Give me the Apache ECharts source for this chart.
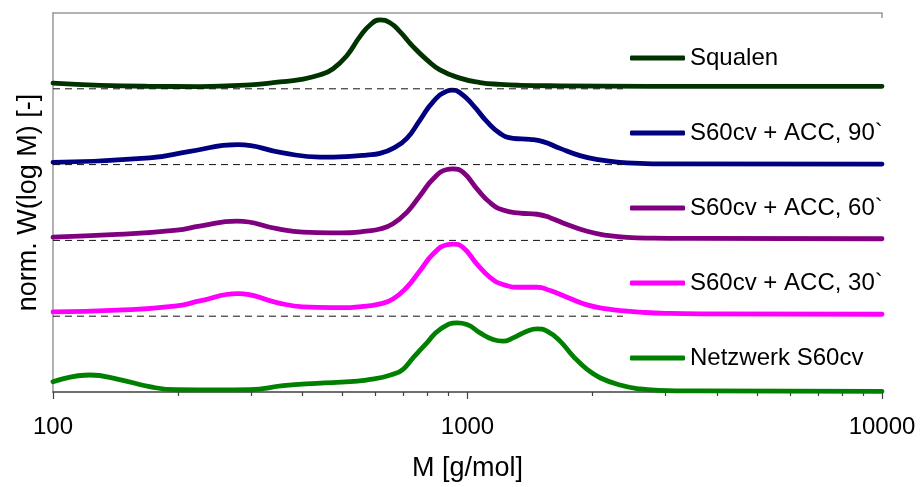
<!DOCTYPE html>
<html>
<head>
<meta charset="utf-8">
<script src="https://cdn.jsdelivr.net/npm/echarts@6/dist/echarts.min.js"></script>
<style>
  html, body { margin: 0; padding: 0; background: #fff; }
  #chart { width: 921px; height: 487px; }
</style>
</head>
<body>
<div id="chart"></div>
<script>
// Molar mass distributions, each trace stacked on its own baseline (offset).
const seriesNames = ['Squalen', 'S60cv + ACC, 90`', 'S60cv + ACC, 60`', 'S60cv + ACC, 30`', 'Netzwerk S60cv'];
const seriesColors = ['#003300', '#000080', '#800080', '#ff00ff', '#008000'];
const baseOffsets = [4, 3, 2, 1, 0];

const squalenM = [100, 130, 171, 226, 299, 353, 394, 441, 474, 512, 550, 582, 615, 650, 687, 739, 798, 858, 959, 1072, 1198, 1339, 1671, 2756, 10000];
const squalenW = [0.075, 0.046, 0.033, 0.030, 0.053, 0.090, 0.122, 0.185, 0.265, 0.440, 0.688, 0.842, 0.908, 0.872, 0.754, 0.557, 0.382, 0.250, 0.141, 0.083, 0.058, 0.046, 0.039, 0.033, 0.033];

const acc90M = [100, 171, 214, 279, 359, 441, 521, 570, 615, 661, 714, 768, 826, 892, 918, 959, 1031, 1114, 1198, 1288, 1415, 1521, 1672, 1868, 2088, 2333, 2608, 2914, 10000];
const acc90W = [0.030, 0.088, 0.175, 0.263, 0.154, 0.099, 0.109, 0.126, 0.149, 0.214, 0.346, 0.588, 0.829, 0.970, 0.983, 0.947, 0.786, 0.566, 0.412, 0.346, 0.333, 0.303, 0.214, 0.118, 0.062, 0.030, 0.017, 0.010, 0.007];

const acc60M = [100, 143, 199, 226, 278, 347, 401, 470, 521, 570, 615, 661, 714, 768, 826, 892, 922, 975, 1054, 1133, 1218, 1339, 1472, 1582, 1738, 1943, 2171, 2426, 2800, 3499, 10000];
const acc60W = [0.043, 0.079, 0.136, 0.188, 0.254, 0.154, 0.109, 0.100, 0.101, 0.122, 0.150, 0.220, 0.370, 0.590, 0.810, 0.935, 0.943, 0.900, 0.680, 0.500, 0.400, 0.360, 0.345, 0.300, 0.210, 0.120, 0.066, 0.040, 0.030, 0.026, 0.022];

const acc30M = [100, 143, 199, 226, 279, 347, 401, 470, 521, 570, 615, 661, 714, 768, 826, 892, 922, 975, 1054, 1133, 1218, 1339, 1472, 1582, 1738, 1943, 2171, 2426, 2608, 3000, 3639, 10000];
const acc30W = [0.057, 0.079, 0.136, 0.201, 0.299, 0.180, 0.122, 0.112, 0.114, 0.134, 0.162, 0.228, 0.382, 0.601, 0.820, 0.943, 0.951, 0.908, 0.688, 0.513, 0.417, 0.382, 0.382, 0.338, 0.250, 0.149, 0.096, 0.066, 0.053, 0.038, 0.030, 0.026];

const netzM = [100, 123, 143, 171, 199, 250, 299, 359, 433, 521, 570, 615, 661, 699, 739, 798, 858, 944, 997, 1072, 1152, 1218, 1288, 1391, 1472, 1555, 1672, 1797, 1943, 2088, 2333, 2608, 2900, 3639, 10000];
const netzW = [0.136, 0.224, 0.171, 0.070, 0.030, 0.028, 0.030, 0.083, 0.114, 0.136, 0.158, 0.188, 0.233, 0.299, 0.451, 0.649, 0.825, 0.912, 0.891, 0.780, 0.693, 0.671, 0.714, 0.803, 0.833, 0.803, 0.671, 0.474, 0.299, 0.188, 0.092, 0.040, 0.022, 0.014, 0.009];

const massSets = [squalenM, acc90M, acc60M, acc30M, netzM];
const valueSets = [squalenW, acc90W, acc60W, acc30W, netzW];

// Dashed reference baselines
const dashLevels = [4, 3, 2, 1];
const dashStartM = 100;
const dashEndM = 2370;

const majorTicks = [100, 1000, 10000];
const minorTicks = [200, 300, 400, 500, 600, 700, 800, 900, 2000, 3000, 4000, 5000, 6000, 7000, 8000, 9000];

const FONT = 'Liberation Sans, Arial, sans-serif';

const curveSeries = seriesNames.map((name, i) => ({
  name: name,
  type: 'line',
  xAxisIndex: 0,
  yAxisIndex: 0,
  symbol: 'none',
  smooth: 0.5,
  z: 3,
  lineStyle: { color: seriesColors[i], width: 4.8, cap: 'round', join: 'round' },
  itemStyle: { color: seriesColors[i] },
  data: massSets[i].map((m, k) => [m, valueSets[i][k] + baseOffsets[i]])
}));

const dashSeries = dashLevels.map(level => ({
  type: 'line',
  xAxisIndex: 0,
  yAxisIndex: 0,
  symbol: 'none',
  silent: true,
  z: 4,
  lineStyle: { color: '#111', width: 1, type: [7, 5] },
  data: [[dashStartM, level], [dashEndM, level]]
}));

const chart = echarts.init(document.getElementById('chart'), null, { renderer: 'canvas' });
chart.setOption({
  animation: false,
  backgroundColor: '#fff',
  grid: { left: 53, right: 39, top: 13, bottom: 94, containLabel: false },
  legend: {
    data: seriesNames,
    orient: 'vertical',
    left: 630,
    top: 46,
    padding: 0,
    itemGap: 51,
    itemWidth: 55,
    itemHeight: 5,
    icon: 'roundRect',
    textStyle: { fontFamily: FONT, fontSize: 24, color: '#000' },
    selectedMode: false
  },
  xAxis: [
    {
      type: 'log', logBase: 10, min: 100, max: 10000, position: 'bottom',
      axisLine: { onZero: false, lineStyle: { color: '#404040', width: 1.5 } },
      axisTick: { customValues: majorTicks, length: 7, lineStyle: { color: '#404040', width: 1.2 } },
      axisLabel: { customValues: majorTicks, fontFamily: FONT, fontSize: 24, color: '#000', margin: 23,
        formatter: v => String(Math.round(v)) },
      splitLine: { show: false },
      minorTick: { show: false },
      name: 'M [g/mol]', nameLocation: 'middle', nameGap: 63,
      nameTextStyle: { fontFamily: FONT, fontSize: 27, color: '#000' }
    },
    {
      type: 'log', logBase: 10, min: 100, max: 10000, position: 'bottom',
      axisLine: { show: false, onZero: false },
      axisTick: { customValues: minorTicks, length: 4, lineStyle: { color: '#404040', width: 1.2 } },
      axisLabel: { show: false },
      splitLine: { show: false }
    },
    {
      type: 'log', logBase: 10, min: 100, max: 10000, position: 'top',
      axisLine: { onZero: false, lineStyle: { color: '#999', width: 1.5 } },
      axisTick: { customValues: [10000], inside: true, length: 5, lineStyle: { color: '#999', width: 1.5 } },
      axisLabel: { show: false },
      splitLine: { show: false }
    }
  ],
  yAxis: {
    type: 'value', min: 0, max: 5,
    axisLine: { show: true, onZero: false, lineStyle: { color: '#999', width: 1.5 } },
    axisTick: { show: false },
    axisLabel: { show: false },
    splitLine: { show: false },
    name: 'norm. W(log M) [-]', nameLocation: 'middle', nameGap: 11, nameRotate: 90,
    nameTextStyle: { fontFamily: FONT, fontSize: 27, color: '#000' }
  },
  series: curveSeries.concat(dashSeries)
});
</script>
</body>
</html>
